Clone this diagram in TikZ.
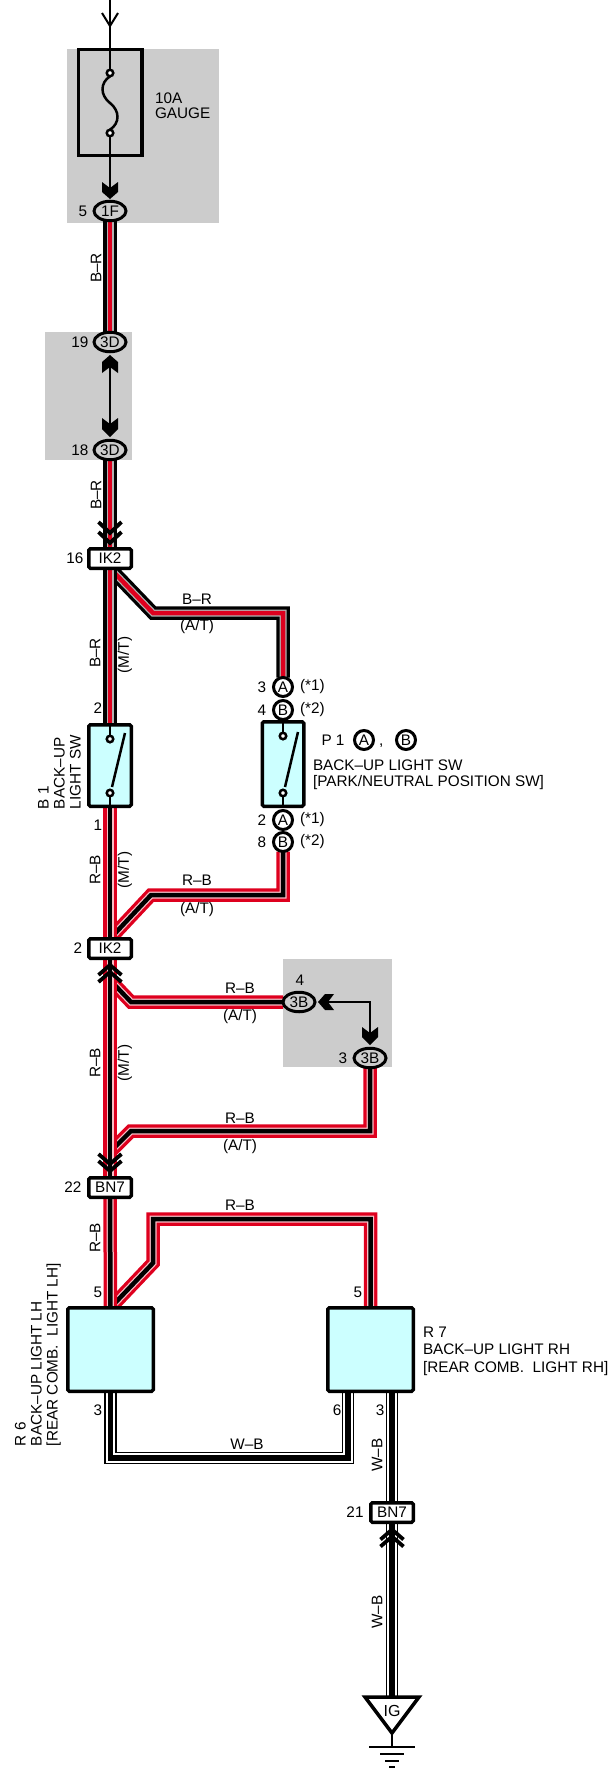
\documentclass[tikz,border=0pt]{standalone}
\usepackage{fontspec}
\setmainfont{Liberation Sans}
\usetikzlibrary{shapes.geometric}
\definecolor{wred}{RGB}{222,0,30}
\definecolor{cyanfill}{RGB}{204,255,255}
\definecolor{bggray}{RGB}{204,204,204}
\pgfdeclarelayer{back}
\pgfdeclarelayer{wires}
\pgfsetlayers{back,wires,main}
\begin{document}
\begin{tikzpicture}[x=1pt,y=-1pt,
  every node/.style={inner sep=0pt, outer sep=0pt, font=\fontsize{15.3}{16}\selectfont},
  wireBR/.style={draw=black, line width=13.5, postaction={draw=black!30, line width=7}, postaction={draw=wred, line width=4.5}},
  wireRB/.style={draw=wred, line width=13.5, postaction={draw=white!75!wred, line width=7}, postaction={draw=black, line width=4.5}},
  wireWB/.style={draw=black, line width=12.5, postaction={draw=white, line width=9.5}, postaction={draw=black, line width=5.5}},
  thinline/.style={draw=black, line width=2},
  chev/.style={draw=black, line width=3.8},
  oval/.style={ellipse, draw=black, line width=3, minimum width=32, minimum height=19.5, fill=bggray},
  pinc/.style={circle, draw=black, line width=3, minimum size=19, fill=white},
  jbox/.style={rectangle, draw=black, line width=3.5, rounded corners=1.5, fill=white, minimum width=42.5, minimum height=19.5},
  comp/.style={rectangle, draw=black, line width=3.5, rounded corners=1.5, fill=cyanfill},
  swc/.style={circle, draw=black, line width=2.5, fill=white, minimum size=6.5},
  swl/.style={draw=black, line width=2.5},
  vlbl/.style={rotate=90},
  blbl/.style={rotate=90, anchor=base west},
  tlbl/.style={anchor=base west},
  wlbl/.style={anchor=west},
]
\useasboundingbox (0,0) rectangle (612,1769);

% ---------- background shading ----------
\begin{pgfonlayer}{back}
\fill[bggray] (67,49) rectangle (219,223);
\fill[bggray] (45,332) rectangle (132,460);
\fill[bggray] (283,959) rectangle (392,1067);
\end{pgfonlayer}

% ---------- components and connectors ----------
\node[draw=black, line width=3.5, minimum width=63.5, minimum height=105.5] (fuse) at (110,102.5) {};
\node[oval] (c1F) at (110,211) {1F};
\node[oval] (c3Da) at (110,342) {3D};
\node[oval] (c3Db) at (110,450) {3D};
\node[jbox] (ik2a) at (110,558.5) {IK2};
\node[comp, minimum width=42.5, minimum height=81.5] (b1) at (110,765.5) {};
\node[comp, minimum width=41.5, minimum height=84.5] (p1) at (283,764) {};
\node[pinc] (pA3) at (283,687) {A};
\node[pinc] (pB4) at (283,710) {B};
\node[pinc] (pA2) at (283,820) {A};
\node[pinc] (pB8) at (283,842) {B};
\node[jbox] (ik2b) at (110,948.5) {IK2};
\node[oval] (c3B4) at (299,1002) {3B};
\node[oval] (c3B3) at (370,1058) {3B};
\node[jbox] (bn7a) at (110,1187.5) {BN7};
\node[comp, minimum width=85.5, minimum height=83.5] (r6) at (110.5,1349.5) {};
\node[comp, minimum width=85.5, minimum height=83.5] (r7) at (370.5,1349.5) {};
\node[jbox] (bn7b) at (392,1512.5) {BN7};

% ---------- bend points ----------
\coordinate (aT1) at (153,613); \coordinate (aT2) at (283,613);
\coordinate (bT1) at (283,895); \coordinate (bT2) at (151,895);
\coordinate (cT0) at (110,980); \coordinate (cT1) at (131,1002);
\coordinate (dT1) at (370,1131); \coordinate (dT2) at (131,1131); \coordinate (dT3) at (110,1152);
\coordinate (eT1) at (153,1263); \coordinate (eT2) at (153,1219); \coordinate (eT3) at (370.5,1219);
\coordinate (wB1) at (110.5,1458); \coordinate (wB2) at (348,1458); \coordinate (r7p6) at (348,1393);
\coordinate (r7p3) at (392,1393);
\coordinate (igtop) at (392,1697);
\coordinate (igtip) at (392,1733);
\coordinate (gnd) at (392,1747);

% ---------- wires ----------
\begin{pgfonlayer}{wires}
\draw[wireBR] (ik2a.south) -- (aT1) -- (aT2) -- (pA3.north);
\draw[wireRB] (pB8.south) -- (bT1) -- (bT2) -- (ik2b.north);
\draw[wireRB] (ik2b.south) -- (cT0) -- (cT1) -- (c3B4.west);
\draw[wireRB] (c3B3.south) -- (dT1) -- (dT2) -- (dT3) -- (bn7a.north);
\draw[wireRB] (r6.north) -- (eT1) -- (eT2) -- (eT3) -- (r7.north);
\draw[wireBR] (c1F.south) -- (c3Da.north);
\draw[wireBR] (c3Db.south) -- (ik2a.north);
\draw[wireBR] (ik2a.south) -- (b1.north);
\draw[wireRB] (b1.south) -- (ik2b.north);
\draw[wireRB] (ik2b.south) -- (bn7a.north);
\draw[wireRB] (bn7a.south) -- (r6.north);
\draw[wireWB] (r6.south) -- (wB1) -- (wB2) -- (r7p6);
\draw[wireWB] (r7p3) -- (bn7b.north);
\draw[wireWB] (bn7b.south) -- (igtop);
\end{pgfonlayer}

% ---------- fuse ----------
\node[swc] (fc1) at (110,73) {};
\node[swc] (fc2) at (110,133) {};
\coordinate (ftop) at (110,0);
\coordinate (farr) at (110,188);
\draw[thinline] (ftop) -- (fc1.north);
\draw[thinline] (102,13) -- (110,26) -- (118,13);
\draw[swl] (fc1.south) .. controls (100,83) and (100,95) .. (110,103) .. controls (120,111) and (120,123) .. (fc2.north);
\draw[thinline] (fc2.south) -- (farr);
\fill (102,182) -- (110,188) -- (118,182) -- (118,192) -- (110,199) -- (102,192) -- cycle;

% ---------- 3D link ----------
\coordinate (d3a) at (110,367); \coordinate (d3b) at (110,424);
\draw[thinline] (d3a) -- (d3b);
\fill (110,355) -- (118,362) -- (118,373) -- (110,367) -- (102,373) -- (102,362) -- cycle;
\fill (102,418) -- (110,424) -- (118,418) -- (118,429) -- (110,437) -- (102,429) -- cycle;

% ---------- 3B link ----------
\coordinate (b3a) at (328,1002); \coordinate (b3k) at (370,1002); \coordinate (b3b) at (370,1033);
\draw[thinline] (b3a) -- (b3k) -- (b3b);
\fill (318,1002) -- (325,994) -- (334,994) -- (328,1002) -- (334,1010) -- (325,1010) -- cycle;
\fill (362,1027) -- (370,1033) -- (378,1027) -- (378,1037) -- (370,1045) -- (362,1037) -- cycle;

% ---------- chevrons ----------
\draw[chev] (98.5,522) -- (110,533) -- (121.5,522);
\draw[chev] (98.5,532) -- (110,543) -- (121.5,532);
\draw[chev] (98.5,975) -- (110,965) -- (121.5,975);
\draw[chev] (98.5,982) -- (110,972) -- (121.5,982);
\draw[chev] (98.5,1154) -- (110,1164) -- (121.5,1154);
\draw[chev] (98.5,1161) -- (110,1171) -- (121.5,1161);
\draw[chev] (380.5,1539.5) -- (392,1529.5) -- (403.5,1539.5);
\draw[chev] (380.5,1546.5) -- (392,1536.5) -- (403.5,1546.5);

% ---------- switches ----------
\node[swc] (b1u) at (110,739) {};
\node[swc] (b1d) at (110,793) {};
\draw[swl] (b1.north) -- (b1u.north);
\draw[swl] (b1d.south) -- (b1.south);
\draw[swl] (112,787) -- (125,733);
\node[swc] (p1u) at (283,736) {};
\node[swc] (p1d) at (283,793) {};
\draw[swl] (p1.north) -- (p1u.north);
\draw[swl] (p1d.south) -- (p1.south);
\draw[swl] (285,787) -- (298,732);

% ---------- ground ----------
\draw[line width=3.5, line join=miter] (365,1697) -- (419,1697) -- (igtip) -- cycle;
\node at (392,1711) {\fontsize{16}{16}\selectfont IG};
\draw[line width=2] (igtip) -- (gnd);
\draw[line width=2.5] (369,1747) -- (415,1747);
\draw[line width=2.5] (380,1754) -- (404,1754);
\draw[line width=2.5] (385,1761) -- (399,1761);
\draw[line width=2.5] (389,1767) -- (395,1767);

% ---------- component labels ----------
\node[tlbl] at (155,103) {10A};
\node[tlbl] at (155,118) {GAUGE};
\node at (333,740) {P 1};
\node[pinc] (p1A) at (364,740) {A};
\node[tlbl] at (379,745) {,};
\node[pinc] (p1B) at (406,740) {B};
\node[tlbl] at (313,770) {BACK–UP LIGHT SW};
\node[tlbl] at (313,786) {[PARK/NEUTRAL POSITION SW]};
\node[blbl] at (48.5,809) {B 1};
\node[blbl] at (64.5,809) {BACK–UP};
\node[blbl] at (80.5,809) {LIGHT SW};
\node[blbl] at (25.5,1446) {R 6};
\node[blbl] at (41.5,1446) {BACK–UP LIGHT LH};
\node[blbl] at (57.5,1446) {[REAR COMB.\ \ LIGHT LH]};
\node[tlbl] at (423,1337) {R 7};
\node[tlbl] at (423,1354.5) {BACK–UP LIGHT RH};
\node[tlbl] at (423,1372) {[REAR COMB.\ \ LIGHT RH]};

% ---------- wire labels ----------
\node[vlbl] at (96,268) {B–R};
\node[vlbl] at (96,495) {B–R};
\node[vlbl] at (95,653) {B–R};
\node[vlbl] at (125,655) {(M/T)};
\node[vlbl] at (95,870) {R–B};
\node[vlbl] at (125,870) {(M/T)};
\node[vlbl] at (95,1063) {R–B};
\node[vlbl] at (125,1063) {(M/T)};
\node[vlbl] at (95,1238) {R–B};
\node[vlbl] at (377,1455) {W–B};
\node[vlbl] at (377,1612) {W–B};
\node at (197,599) {B–R};
\node at (197,627) {(A/T)};
\node at (197,880) {R–B};
\node at (197,910) {(A/T)};
\node at (240,988) {R–B};
\node at (240,1017) {(A/T)};
\node at (240,1118) {R–B};
\node at (240,1147) {(A/T)};
\node at (240,1205) {R–B};
\node at (247,1444) {W–B};

% ---------- pin numbers ----------
\node at (83,211) {5};
\node at (80,342) {19};
\node at (80,450) {18};
\node at (75,558.5) {16};
\node at (98,708) {2};
\node at (98,825) {1};
\node at (262,687) {3};
\node at (262,710) {4};
\node at (262,820) {2};
\node at (262,842) {8};
\node[wlbl] at (300,687) {(*1)};
\node[wlbl] at (300,710) {(*2)};
\node[wlbl] at (300,820) {(*1)};
\node[wlbl] at (300,842) {(*2)};
\node at (78,948.5) {2};
\node at (300,980) {4};
\node at (343,1058) {3};
\node at (73,1187.5) {22};
\node at (98,1292) {5};
\node at (358,1292) {5};
\node at (98,1410) {3};
\node at (337,1410) {6};
\node at (380,1410) {3};
\node at (355,1512.5) {21};
\end{tikzpicture}
\end{document}
